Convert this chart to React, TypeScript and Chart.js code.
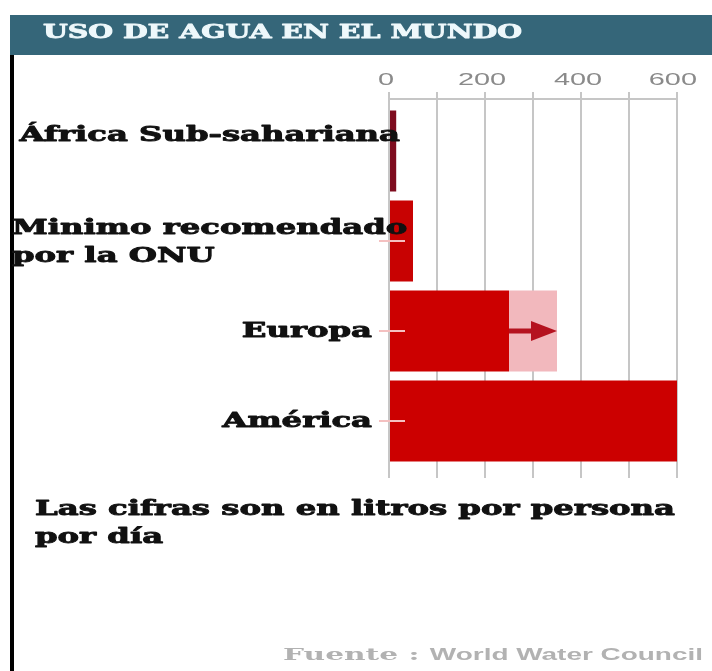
import React, { useEffect, useRef } from "react";
import { Chart, registerables } from "chart.js";

Chart.register(...registerables);

// ---- data ----
const title = "USO DE AGUA EN EL MUNDO";
const categories: string[][] = [
  ["África Sub-sahariana"],
  ["Minimo recomendado", "por la ONU"],
  ["Europa"],
  ["América"],
];
const usage = [15, 50, 250, 600]; // litros por persona por día
const projected = [null, null, 350, null]; // proyección (flecha) Europa
const tickValues = [0, 200, 400, 600];
const noteLines = ["Las cifras son en litros por persona", "por día"];
const sourcePrefix = "Fuente : ";
const sourceName = "World Water Council";

const barColors = ["#7e0c1e", "#c80202", "#cc0000", "#cc0000"];
const growth = projected.map((p, i) => (p == null ? null : (p as number) - usage[i]));

function drawStretched(
  ctx: CanvasRenderingContext2D,
  text: string,
  x: number,
  y: number,
  sx: number,
  align: "left" | "right" | "center",
  stroke = 0
) {
  const w = ctx.measureText(text).width * sx;
  const left = align === "right" ? x - w : align === "center" ? x - w / 2 : x;
  ctx.save();
  ctx.translate(left, y);
  ctx.scale(sx, 1);
  ctx.textAlign = "left";
  ctx.fillText(text, 0, 0);
  if (stroke > 0) {
    ctx.strokeStyle = ctx.fillStyle as string;
    ctx.lineWidth = stroke;
    ctx.lineJoin = "round";
    ctx.strokeText(text, 0, 0);
  }
  ctx.restore();
  return w;
}

const SERIF = 'bold 20px "DejaVu Serif"';

const decor = {
  id: "decor",
  beforeDraw(chart: any) {
    const ctx: CanvasRenderingContext2D = chart.ctx;
    const W = chart.width;
    const H = chart.height;
    ctx.save();
    ctx.fillStyle = "#ffffff";
    ctx.fillRect(0, 0, W, H);
    ctx.fillStyle = "#000000";
    ctx.fillRect(10, 15, 4, H - 15);
    ctx.fillStyle = "#356679";
    ctx.fillRect(10, 15, W - 10, 40);
    ctx.fillStyle = "#eef8fb";
    ctx.font = 'bold 18px "DejaVu Serif"';
    ctx.textBaseline = "alphabetic";
    const sx = 479 / ctx.measureText(title).width;
    drawStretched(ctx, title, 43, 38, sx, "left", 0.8);
    ctx.restore();
  },
  beforeDatasetsDraw(chart: any) {
    const ctx: CanvasRenderingContext2D = chart.ctx;
    const a = chart.chartArea;
    ctx.save();
    ctx.strokeStyle = "#c6c6c6";
    ctx.lineWidth = 2;
    ctx.beginPath();
    ctx.moveTo(a.left - 1, a.top - 7);
    ctx.lineTo(a.right + 1, a.top - 7);
    ctx.stroke();
    ctx.restore();
  },
  afterDatasetsDraw(chart: any) {
    const ctx: CanvasRenderingContext2D = chart.ctx;
    const xs = chart.scales.x;
    const ys = chart.scales.y;
    const a = chart.chartArea;
    ctx.save();
    // category tick marks
    ctx.strokeStyle = "#f4c0c0";
    ctx.lineWidth = 2;
    categories.forEach((_, i) => {
      if (i === 0) return;
      const y = ys.getPixelForValue(i);
      ctx.beginPath();
      ctx.moveTo(a.left - 10, y);
      ctx.lineTo(a.left + 16, y);
      ctx.stroke();
    });
    // projection arrows
    projected.forEach((p, i) => {
      if (p == null) return;
      const x0 = xs.getPixelForValue(usage[i]);
      const x1 = xs.getPixelForValue(p as number);
      const y = ys.getPixelForValue(i);
      ctx.strokeStyle = "#b5121f";
      ctx.fillStyle = "#b5121f";
      ctx.lineWidth = 5;
      ctx.beginPath();
      ctx.moveTo(x0, y);
      ctx.lineTo(x1 - 20, y);
      ctx.stroke();
      ctx.beginPath();
      ctx.moveTo(x1 - 26, y - 10);
      ctx.lineTo(x1, y);
      ctx.lineTo(x1 - 26, y + 10);
      ctx.closePath();
      ctx.fill();
    });
    ctx.restore();
  },
  afterDraw(chart: any) {
    const ctx: CanvasRenderingContext2D = chart.ctx;
    const xs = chart.scales.x;
    const ys = chart.scales.y;
    ctx.save();
    ctx.textBaseline = "alphabetic";

    // footer note (sets stretch factor for serif labels)
    ctx.font = SERIF;
    ctx.fillStyle = "#111111";
    const sx = 640 / ctx.measureText(noteLines[0]).width;
    noteLines.forEach((line, k) => {
      drawStretched(ctx, line, 35, 515 + k * 28, sx, "left", 0.9);
    });

    // category labels
    const lh = 28;
    const labelRight = 372;
    categories.forEach((lines, i) => {
      const yc = ys.getPixelForValue(i);
      const widths = lines.map((l) => ctx.measureText(l).width * sx);
      const maxW = Math.max(...widths);
      const overflow = labelRight - maxW < 12;
      const first = overflow
        ? yc - ((lines.length - 1) * lh) / 2 - (lines.length === 1 ? 10 : -7)
        : yc - ((lines.length - 1) * lh) / 2 + 6;
      const left = Math.max(12, 400 - maxW);
      lines.forEach((l, k) => {
        if (overflow) drawStretched(ctx, l, left, first + k * lh, sx, "left", 0.9);
        else drawStretched(ctx, l, labelRight, first + k * lh, sx, "right", 0.9);
      });
    });

    // x tick labels
    ctx.font = '17px "Liberation Sans"';
    ctx.fillStyle = "#8a8a8a";
    tickValues.forEach((v) => {
      let x = xs.getPixelForValue(v);
      const w = ctx.measureText(String(v)).width * 1.7;
      if (x + w / 2 > 700) x = 700 - w / 2;
      drawStretched(ctx, String(v), x - 3, 85, 1.7, "center");
    });

    // source
    ctx.fillStyle = "#b2b2b2";
    ctx.font = 'bold 17px "DejaVu Serif"';
    const w1 = ctx.measureText(sourcePrefix).width;
    ctx.font = 'bold 16px "Liberation Sans"';
    const w2 = ctx.measureText(sourceName).width;
    const ssx = 420 / (w1 + w2);
    ctx.font = 'bold 17px "DejaVu Serif"';
    drawStretched(ctx, sourcePrefix, 283, 660, ssx, "left");
    ctx.font = 'bold 16px "Liberation Sans"';
    drawStretched(ctx, sourceName, 283 + w1 * ssx, 660, ssx, "left");
    ctx.restore();
  },
};

export default function App() {
  const ref = useRef<HTMLCanvasElement | null>(null);
  useEffect(() => {
    if (!ref.current) return;
    const chart = new Chart(ref.current, {
      type: "bar",
      data: {
        labels: categories.map((c) => c.join(" ")),
        datasets: [
          {
            label: "Uso actual",
            data: usage,
            backgroundColor: barColors,
            borderWidth: 0,
            barPercentage: 0.9,
            categoryPercentage: 1,
          },
          {
            label: "Proyección",
            data: growth as any,
            backgroundColor: "#f2b8bd",
            borderWidth: 0,
            barPercentage: 0.9,
            categoryPercentage: 1,
          },
        ],
      },
      options: {
        indexAxis: "y",
        responsive: false,
        animation: false,
        layout: { padding: { left: 389, right: 35, top: 92, bottom: 193 } },
        plugins: {
          legend: { display: false },
          tooltip: { enabled: false },
          title: { display: false },
        },
        scales: {
          x: {
            position: "top",
            min: 0,
            max: 600,
            stacked: true,
            ticks: { display: false, stepSize: 100 },
            grid: { color: "#c6c6c6", lineWidth: 2, tickLength: 14, drawTicks: true },
            border: { display: false },
          },
          x2: {
            axis: "x",
            position: "bottom",
            min: 0,
            max: 600,
            ticks: { display: false, stepSize: 100 },
            grid: { drawOnChartArea: false, color: "#c6c6c6", lineWidth: 2, tickLength: 12 },
            border: { display: false },
          },
          y: { display: false, stacked: true },
        },
      } as any,
      plugins: [decor],
    });
    return () => chart.destroy();
  }, []);
  return (
    <canvas
      ref={ref}
      width={712}
      height={671}
      style={{ position: "fixed", left: 0, top: 0, width: 712, height: 671, display: "block" }}
    />
  );
}
